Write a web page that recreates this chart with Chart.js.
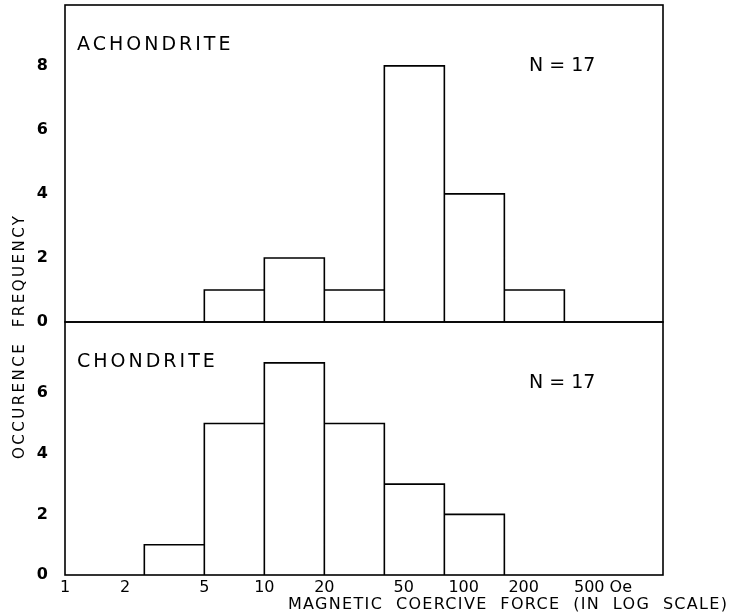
<!DOCTYPE html>
<html>
<head>
<meta charset="utf-8">
<script src="https://cdn.jsdelivr.net/npm/chart.js@4"></script>
<style>
  html, body { margin: 0; padding: 0; background: #fff; }
  #wrap { position: relative; width: 729px; height: 616px; overflow: hidden; }
  #wrap canvas { position: absolute; left: 0; }
  #bottom-chart { top: 0; }
  #top-chart { top: -20px; }
</style>
</head>
<body>
<div id="wrap">
  <canvas id="bottom-chart" width="729" height="616"></canvas>
  <canvas id="top-chart" width="729" height="360"></canvas>
</div>
<script>
// границы классов (Oe) и частоты по классам
const binEdges = [2.5, 5, 10, 20, 40, 80, 160, 320];
const achondriteCounts = [0, 1, 2, 1, 8, 4, 1];
const chondriteCounts = [1, 5, 7, 5, 3, 2, 0];
const xTickValues = [1, 2, 5, 10, 20, 50, 100, 200, 500];
const topYTicks = [0, 2, 4, 6, 8];
const bottomYTicks = [0, 2, 4, 6];

const FONT = '"DejaVu Sans", sans-serif';

const histogramPoints = (counts) => { // контуры столбиков как отрезки линии
    const pts = [];
    counts.forEach((c, i) => {
        if (!c) return;
        const lo = binEdges[i], hi = binEdges[i + 1];
        pts.push({ x: lo, y: 0 }, { x: lo, y: c }, { x: hi, y: c }, { x: hi, y: 0 }, { x: hi, y: null });
    });
    return pts;
};

const panelText = { // рамка панели и подписи внутри
    id: 'panelText',
    afterDraw(chart, args, opts) {
        const { ctx, chartArea: a } = chart;
        ctx.save();
        ctx.strokeStyle = '#000';
        ctx.lineWidth = 1.6;
        ctx.strokeRect(a.left, a.top, a.right - a.left, a.bottom - a.top);
        ctx.fillStyle = '#000';
        ctx.font = '19px ' + FONT;
        ctx.textBaseline = 'middle';
        ctx.textAlign = 'left';
        ctx.letterSpacing = '3px';
        ctx.fillText(opts.name, a.left + 12, a.top + 40);
        ctx.letterSpacing = '0px';
        ctx.fillText('N = 17', a.left + 464, a.top + 61);
        ctx.restore();
    }
};

const spacedText = (ctx, text, x, y, width) => { // текст с разрядкой под заданную ширину
    ctx.letterSpacing = '0px';
    const w = ctx.measureText(text).width;
    ctx.letterSpacing = ((width - w) / (text.length - 1)) + 'px';
    ctx.fillText(text, x, y);
};

const axisTitles = { // общие подписи осей
    id: 'axisTitles',
    afterDraw(chart) {
        const { ctx } = chart;
        ctx.save();
        ctx.fillStyle = '#000';
        ctx.textBaseline = 'middle';
        ctx.font = '16px ' + FONT;
        ctx.textAlign = 'left';
        spacedText(ctx, 'MAGNETIC  COERCIVE  FORCE  (IN  LOG  SCALE)', 288, 605, 439);
        ctx.font = '15px ' + FONT;
        ctx.translate(20, 338);
        ctx.rotate(-Math.PI / 2);
        spacedText(ctx, 'OCCURENCE  FREQUENCY', -121, 0, 243);
        ctx.restore();
    }
};

const makeChart = (id, counts, yMax, yTicks, isBottom) => {
    const el = document.getElementById(id);
    return new Chart(el, {
        type: 'line',
        data: {
            datasets: [{
                data: histogramPoints(counts),
                borderColor: '#000',
                borderWidth: 1.6,
                pointRadius: 0,
                tension: 0,
                fill: false,
                spanGaps: false,
            }],
        },
        options: {
            responsive: false,
            animation: false,
            layout: { padding: { left: 0, right: 66, top: isBottom ? 322 : 25, bottom: isBottom ? 0 : 18 } },
            plugins: {
                legend: { display: false },
                tooltip: { enabled: false },
                panelText: { name: isBottom ? 'CHONDRITE' : 'ACHONDRITE' },
            },
            scales: {
                x: {
                    type: 'logarithmic',
                    min: 1,
                    max: 1000,
                    grid: { display: false, drawTicks: false },
                    border: { display: false },
                    afterBuildTicks: (s) => { s.ticks = xTickValues.map(v => ({ value: v })); },
                    afterFit: (s) => { s.height = isBottom ? 41 : 0; },
                    ticks: {
                        display: isBottom,
                        autoSkip: false,
                        maxRotation: 0,
                        padding: 3,
                        color: '#000',
                        font: { family: FONT, size: 16 },
                        callback: (v) => v === 500 ? '500 Oe' : String(v),
                    },
                },
                y: {
                    min: 0,
                    max: yMax,
                    grid: { display: false, drawTicks: true, tickLength: 17 },
                    border: { display: false },
                    afterBuildTicks: (s) => { s.ticks = yTicks.map(v => ({ value: v })); },
                    afterFit: (s) => { s.width = 65; },
                    ticks: {
                        padding: 0,
                        color: '#000',
                        font: { family: FONT, size: 16, weight: 'bold' },
                    },
                },
            },
        },
        plugins: isBottom ? [panelText, axisTitles] : [panelText],
    });
};

makeChart('bottom-chart', chondriteCounts, 8.35, bottomYTicks, true);
makeChart('top-chart', achondriteCounts, 9.9, topYTicks, false);
</script>
</body>
</html>
